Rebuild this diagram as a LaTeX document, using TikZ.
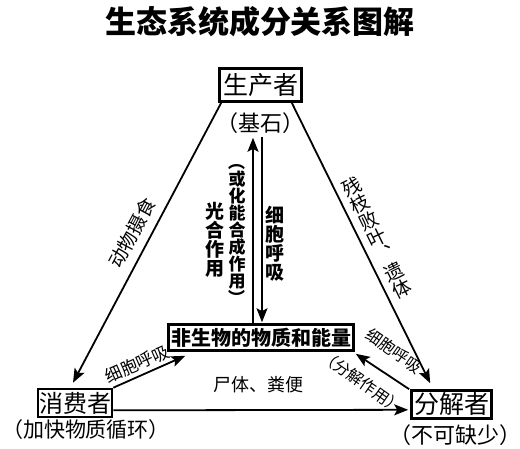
\documentclass[tikz,border=0pt]{standalone}
\usepackage{fontspec}
\setmainfont{Noto Sans CJK SC}
\usetikzlibrary{arrows.meta,calc}
\newcommand{\vop}{\rotatebox[origin=c]{-90}{（}}
\newcommand{\vcp}{\rotatebox[origin=c]{-90}{）}}
\begin{document}
\begin{tikzpicture}[x=1pt,y=-1pt,
  box/.style={draw,line width=2.6pt,inner sep=0pt,align=center},
  conn/.style={line width=1.8pt,-{Stealth[length=14pt,width=11pt,inset=3pt]}},
  fs/.style={font=\fontsize{#1}{#1}\selectfont},
  vlab/.style={inner sep=0pt,align=center,fs=#1},
  lab/.style={inner sep=0pt,fs=#1}]
\useasboundingbox[fill=white] (0,0) rectangle (520,448);
% title
\node[inner sep=0pt,font=\fontsize{31}{31}\selectfont\bfseries] (T) at (260,22) {生态系统成分关系图解};
% boxes
\node[box,fs=25,minimum width=82pt,minimum height=33pt] (P) at (260.5,85) {生产者};
\node[lab=22] (PL) at (260,123) {（基石）};
\node[box,font=\fontsize{20}{20}\selectfont\bfseries,minimum width=185pt,minimum height=26pt] (N) at (261,337.5) {非生物的物质和能量};
\node[box,fs=24,minimum width=74pt,minimum height=28pt] (C) at (75,403) {消费者};
\node[lab=21] (CL) at (86,430) {（加快物质循环）};
\node[box,fs=25,minimum width=80pt,minimum height=28pt] (D) at (451.5,404.5) {分解者};
\node[lab=22] (DL) at (455,435) {（不可缺少）};
% connectors
\draw[conn] ($(P.south west)+(3,0)$) -- ($(C.north)+(-2,-5)$);
\draw[conn] ($(P.south east)+(-11,0)$) -- ($(D.north west)+(20,-6)$);
\draw[conn] ($(N.north)+(-8,0)$) -- ($(P.south)+(-7.5,35)$);
\draw[conn] ($(P.south)+(1.5,34)$) -- ($(N.north)+(1,-1)$);
\draw[conn] (C.north east) -- ($(N.south west)+(18,4)$);
\draw[conn] ($(D.north west)+(-1,0)$) -- ($(N.south east)+(1,2)$);
\draw[conn] ($(C.south east)+(0,-8)$) -- ($(D.south west)+(-2,-10)$);
% labels
\node[lab=19,rotate=62] (L1) at (132,233) {动物摄食};
\node[vlab=19,rotate=26] (L2) at (377,238) {残\\枝\\败\\叶\\︑\\遗\\体};
\node[vlab=19,font=\fontsize{19}{19}\selectfont\bfseries] (L3) at (215,240) {光\\合\\作\\用};
\node[vlab=17,font=\fontsize{17}{17}\selectfont\bfseries] (L4) at (237,230) {\vop\\或\\化\\能\\合\\成\\作\\用\\\vcp};
\node[vlab=19,font=\fontsize{19}{19}\selectfont\bfseries] (L5) at (275,244) {细\\胞\\呼\\吸};
\node[lab=17,rotate=24] (L6) at (137,364) {细胞呼吸};
\node[lab=16,rotate=-35] (L7) at (394,351) {细胞呼吸};
\node[lab=16,rotate=-35] (L8) at (362,382) {（分解作用）};
\node[lab=18] (L9) at (258,385) {尸体、粪便};
\end{tikzpicture}
\end{document}
